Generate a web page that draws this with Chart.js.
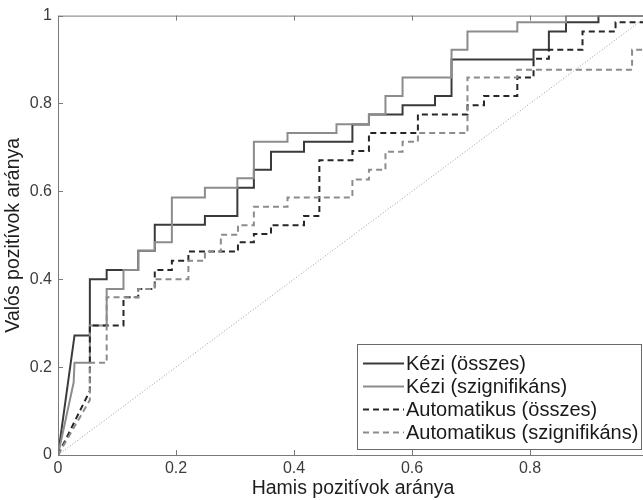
<!DOCTYPE html>
<html>
<head>
<meta charset="utf-8">
<script src="https://cdn.jsdelivr.net/npm/chart.js@4/dist/chart.umd.min.js"></script>
<style>
  html, body { margin: 0; padding: 0; background: #fff; width: 643px; height: 500px; overflow: hidden; }
  #wrap { position: relative; width: 660px; height: 500px; }
</style>
</head>
<body>
<div id="wrap"><canvas id="roc" width="660" height="500"></canvas></div>
<script>
// ROC görbék: hamis pozitív arány (FPR) és valós pozitív arány (TPR)
const keziOsszesFpr = [0, 0.028, 0.054, 0.054, 0.0825, 0.0825, 0.136, 0.136, 0.164, 0.164, 0.249, 0.249, 0.304, 0.304, 0.332, 0.332, 0.361, 0.361, 0.417, 0.417, 0.499, 0.499, 0.527, 0.527, 0.584, 0.584, 0.639, 0.639, 0.667, 0.667, 0.806, 0.806, 0.832, 0.832, 0.861, 0.861, 0.916, 0.916, 1];
const keziOsszesTpr = [0, 0.272, 0.272, 0.400, 0.400, 0.421, 0.421, 0.465, 0.465, 0.524, 0.524, 0.544, 0.544, 0.608, 0.608, 0.649, 0.649, 0.690, 0.690, 0.713, 0.713, 0.752, 0.752, 0.775, 0.775, 0.796, 0.796, 0.817, 0.817, 0.900, 0.900, 0.922, 0.922, 0.964, 0.964, 0.985, 0.985, 1, 1];

const keziSzignFpr = [0, 0.0265, 0.028, 0.054, 0.054, 0.0825, 0.0825, 0.111, 0.111, 0.136, 0.136, 0.164, 0.164, 0.193, 0.193, 0.249, 0.249, 0.304, 0.304, 0.332, 0.332, 0.389, 0.389, 0.472, 0.472, 0.527, 0.527, 0.555, 0.555, 0.584, 0.584, 0.667, 0.667, 0.694, 0.694, 0.7785, 0.7785, 0.861, 0.861, 1];
const keziSzignTpr = [0, 0.165, 0.210, 0.210, 0.295, 0.295, 0.378, 0.378, 0.421, 0.421, 0.465, 0.465, 0.484, 0.484, 0.586, 0.586, 0.608, 0.608, 0.630, 0.630, 0.713, 0.713, 0.733, 0.733, 0.753, 0.753, 0.775, 0.775, 0.817, 0.817, 0.859, 0.859, 0.922, 0.922, 0.964, 0.964, 0.985, 0.985, 1, 1];

const autoOsszesFpr = [0, 0.054, 0.054, 0.111, 0.111, 0.136, 0.136, 0.164, 0.164, 0.193, 0.193, 0.221, 0.221, 0.305, 0.305, 0.332, 0.332, 0.361, 0.361, 0.417, 0.417, 0.443, 0.443, 0.499, 0.499, 0.527, 0.527, 0.610, 0.610, 0.694, 0.694, 0.722, 0.722, 0.7785, 0.7785, 0.806, 0.806, 0.832, 0.832, 0.889, 0.889, 0.945, 0.945, 1, 1];
const autoOsszesTpr = [0, 0.146, 0.295, 0.295, 0.359, 0.359, 0.378, 0.378, 0.421, 0.421, 0.442, 0.442, 0.463, 0.463, 0.484, 0.484, 0.503, 0.503, 0.523, 0.523, 0.544, 0.544, 0.671, 0.671, 0.692, 0.692, 0.733, 0.733, 0.775, 0.775, 0.796, 0.796, 0.817, 0.817, 0.859, 0.859, 0.902, 0.902, 0.922, 0.922, 0.964, 0.964, 0.985, 0.985, 1];

const autoSzignFpr = [0, 0.054, 0.054, 0.0825, 0.0825, 0.136, 0.136, 0.164, 0.164, 0.221, 0.221, 0.249, 0.249, 0.276, 0.276, 0.305, 0.305, 0.332, 0.332, 0.389, 0.389, 0.499, 0.499, 0.527, 0.527, 0.555, 0.555, 0.584, 0.584, 0.610, 0.610, 0.694, 0.694, 0.7785, 0.7785, 0.973, 0.973, 1, 1];
const autoSzignTpr = [0, 0.125, 0.210, 0.210, 0.359, 0.359, 0.378, 0.378, 0.400, 0.400, 0.442, 0.442, 0.463, 0.463, 0.501, 0.501, 0.523, 0.523, 0.565, 0.565, 0.586, 0.586, 0.627, 0.627, 0.649, 0.649, 0.690, 0.690, 0.713, 0.713, 0.733, 0.733, 0.859, 0.859, 0.877, 0.877, 0.922, 0.922, 1];

// véletlen osztályozó átlója
const chanceFpr = [0, 1];
const chanceTpr = [0, 1];

const seriesLabels = ['Kézi (összes)', 'Kézi (szignifikáns)', 'Automatikus (összes)', 'Automatikus (szignifikáns)'];
const xTickValues = [0, 0.2, 0.4, 0.6, 0.8, 1];
const xTickLabels = ['0', '0.2', '0.4', '0.6', '0.8', '1'];
const yTickValues = [0, 0.2, 0.4, 0.6, 0.8, 1];
const yTickLabels = ['0', '0.2', '0.4', '0.6', '0.8', '1'];

const FONT = '"Liberation Sans", Arial, Helvetica, sans-serif';

const pts = (xs, ys) => xs.map((v, i) => ({ x: v, y: ys[i] }));

const datasets = [
  { label: seriesLabels[0], data: pts(keziOsszesFpr, keziOsszesTpr), borderColor: '#3a3a3a', borderWidth: 2, order: 5 },
  { label: seriesLabels[1], data: pts(keziSzignFpr, keziSzignTpr), borderColor: '#8c8c8c', borderWidth: 2, order: 4 },
  { label: seriesLabels[2], data: pts(autoOsszesFpr, autoOsszesTpr), borderColor: '#262626', borderWidth: 2, borderDash: [6, 4], order: 3 },
  { label: seriesLabels[3], data: pts(autoSzignFpr, autoSzignTpr), borderColor: '#8c8c8c', borderWidth: 2, borderDash: [6, 4], order: 2 },
  { label: '', data: pts(chanceFpr, chanceTpr), borderColor: '#9a9a9a', borderWidth: 1, borderDash: [1, 2], order: 6 }
].map(d => Object.assign({ showLine: true, pointRadius: 0, tension: 0, fill: false, borderCapStyle: 'butt', borderJoinStyle: 'miter' }, d));

// tengelykeret befelé mutató osztásjelekkel, és jelmagyarázat
const framePlugin = {
  id: 'frame',
  afterDatasetsDraw(chart) {
    const { ctx, chartArea: a, scales: { x, y } } = chart;
    ctx.save();
    ctx.strokeStyle = '#7a7a7a';
    ctx.lineWidth = 1;
    ctx.beginPath();
    ctx.rect(a.left + 0.5, a.top + 0.5, a.right - a.left, a.bottom - a.top);
    xTickValues.forEach(v => {
      const px = Math.round(x.getPixelForValue(v)) + 0.5;
      ctx.moveTo(px, a.bottom); ctx.lineTo(px, a.bottom - 5);
      ctx.moveTo(px, a.top); ctx.lineTo(px, a.top + 5);
    });
    yTickValues.forEach(v => {
      const py = Math.round(y.getPixelForValue(v)) + 0.5;
      ctx.moveTo(a.left, py); ctx.lineTo(a.left + 5, py);
      ctx.moveTo(a.right, py); ctx.lineTo(a.right - 5, py);
    });
    ctx.stroke();

    // jelmagyarázat doboza
    const box = { left: 357.5, top: 344.5, right: 641.5, bottom: 449.5 };
    ctx.fillStyle = '#fff';
    ctx.fillRect(box.left, box.top, box.right - box.left, box.bottom - box.top);
    ctx.strokeStyle = '#6a6a6a';
    ctx.strokeRect(box.left, box.top, box.right - box.left, box.bottom - box.top);
    ctx.font = '20px ' + FONT;
    ctx.textBaseline = 'middle';
    ctx.textAlign = 'left';
    for (let i = 0; i < 4; i++) {
      const ds = chart.data.datasets[i];
      const cy = Math.round(363 + i * 22.9) + 0.5;
      ctx.beginPath();
      ctx.strokeStyle = ds.borderColor;
      ctx.lineWidth = ds.borderWidth;
      ctx.setLineDash(ds.borderDash || []);
      ctx.moveTo(363, cy); ctx.lineTo(404, cy);
      ctx.stroke();
      ctx.setLineDash([]);
      ctx.fillStyle = '#1a1a1a';
      ctx.fillText(ds.label, 406, cy + 1);
    }
    ctx.restore();
  }
};

new Chart(document.getElementById('roc'), {
  type: 'scatter',
  data: { datasets },
  options: {
    responsive: false,
    animation: false,
    devicePixelRatio: 1,
    layout: { padding: { top: 14, right: 12, left: 0, bottom: 0 } },
    plugins: { legend: { display: false }, tooltip: { enabled: false } },
    scales: {
      x: {
        type: 'linear', min: 0, max: 1,
        afterBuildTicks: s => { s.ticks = xTickValues.map(v => ({ value: v })); },
        afterFit: s => { s.height = 45; },
        grid: { display: false, drawTicks: false },
        border: { display: false },
        ticks: {
          autoSkip: false, maxRotation: 0, padding: 4,
          color: '#3c3c3c', font: { family: FONT, size: 16 },
          callback: (v, i) => xTickLabels[i]
        },
        title: {
          display: true, text: 'Hamis pozitívok aránya', color: '#1e1e1e',
          font: { family: FONT, size: 19.5 }, padding: { top: 0, bottom: 0 }
        }
      },
      y: {
        type: 'linear', min: 0, max: 1,
        afterBuildTicks: s => { s.ticks = yTickValues.map(v => ({ value: v })); },
        afterFit: s => { s.width = 58; },
        grid: { display: false, drawTicks: false },
        border: { display: false },
        ticks: {
          autoSkip: false, padding: 6,
          color: '#3c3c3c', font: { family: FONT, size: 16 },
          callback: (v, i) => yTickLabels[i]
        },
        title: {
          display: true, text: 'Valós pozitívok aránya', color: '#1e1e1e',
          font: { family: FONT, size: 19.5 }, padding: { top: 2, bottom: 0 }
        }
      }
    }
  },
  plugins: [framePlugin]
});
</script>
</body>
</html>
